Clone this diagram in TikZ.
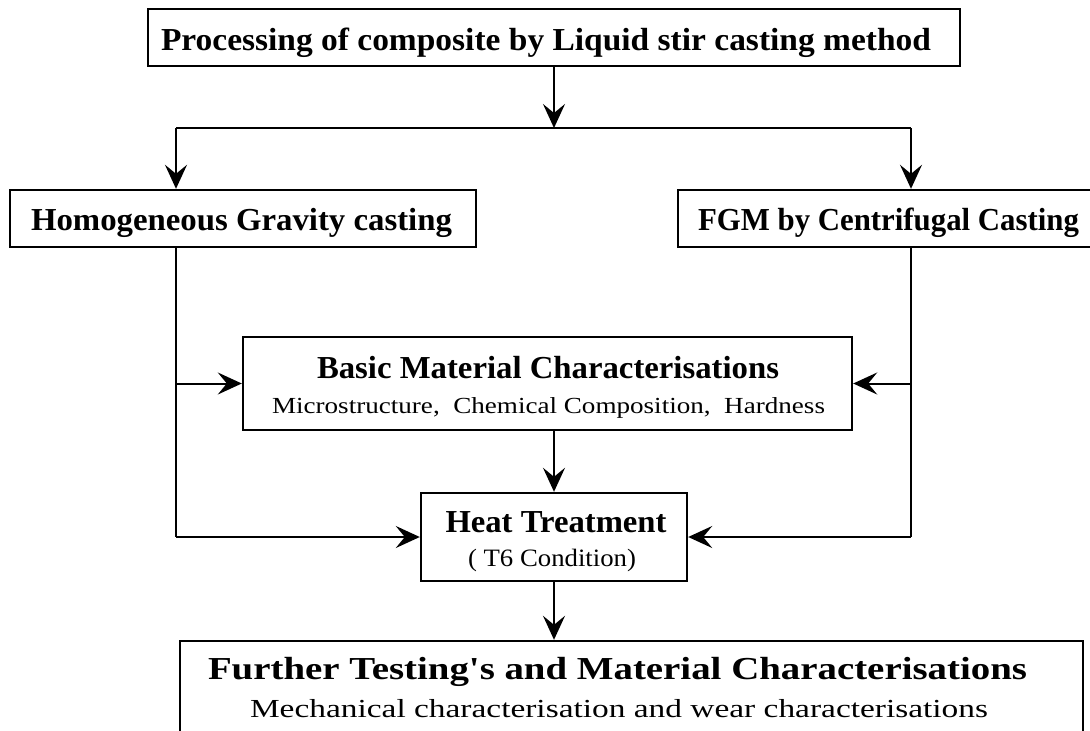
\documentclass[tikz,border=0pt]{standalone}
\usepackage{fontspec}
\setmainfont{Liberation Serif}
\usetikzlibrary{arrows.meta}
\newcommand\fitx[2]{\sbox0{#2}\pgfmathsetmacro\fxs{#1/\the\wd0}\scalebox{\fxs}[1]{\usebox0}}
\tikzset{
  box/.style={draw, line width=2.4pt, rectangle, inner sep=0pt},
  ttl/.style={anchor=base, inner sep=0pt, font=\fontsize{32}{36}\selectfont\bfseries},
  sub/.style={anchor=base, inner sep=0pt, font=\fontsize{25}{28}\selectfont},
  ln/.style={line width=2pt},
  arr/.style={line width=2pt, -{Stealth[length=24pt,width=22pt,inset=9pt]}}
}
\begin{document}
\begin{tikzpicture}[x=1pt,y=-1pt]
\useasboundingbox (0,0) rectangle (1090,731);
\clip (0,0) rectangle (1090,731);
\fill[white] (0,0) rectangle (1090,731);
% boxes
\node[box, minimum width=812pt, minimum height=57pt] (top) at (554,37.5) {};
\node[box, minimum width=466pt, minimum height=57pt] (homo) at (243,218.5) {};
\node[box, minimum width=422pt, minimum height=57pt] (fgm) at (889,218.5) {};
\node[box, minimum width=609pt, minimum height=93pt] (basic) at (547.5,383.5) {};
\node[box, minimum width=266pt, minimum height=88pt] (heat) at (554,537) {};
\node[box, minimum width=903pt, minimum height=119pt] (bottom) at (631.5,700.5) {};
% texts
\node[ttl] (t1) at (546,50) {\fitx{770}{Processing of composite by Liquid stir casting method}};
\node[ttl] (t2) at (241.5,230) {\fitx{421}{Homogeneous Gravity casting}};
\node[ttl] (t3) at (888.5,230) {\fitx{381}{FGM by Centrifugal Casting}};
\node[ttl] (t4) at (548,378) {\fitx{462}{Basic Material Characterisations}};
\node[sub, font=\fontsize{23}{27}\selectfont] (t5) at (548.5,413) {\fitx{553}{Microstructure,\ \ Chemical Composition,\ \ Hardness}};
\node[ttl] (t6) at (556,532) {\fitx{221}{Heat Treatment}};
\node[sub] (t7) at (552,566) {\fitx{168}{( T6 Condition)}};
\node[ttl] (t8) at (617.5,679) {\fitx{819}{Further Testing\textquotesingle s and Material Characterisations}};
\node[sub, font=\fontsize{26}{29}\selectfont] (t9) at (619,717) {\fitx{738}{Mechanical characterisation and wear characterisations}};
% connectors
\coordinate (sL) at (176,128);
\coordinate (sR) at (911,128);
\coordinate (sM) at (554,128);
\draw[arr] (top.south) -- (sM);
\draw[ln] (sL) -- (sR);
\draw[arr] (sL) -- (sL |- homo.north);
\draw[arr] (sR) -- (sR |- fgm.north);
\draw[ln] (sL |- homo.south) -- (sL |- heat.west);
\draw[ln] (sR |- fgm.south) -- (sR |- heat.west);
\draw[arr] (sL |- basic.west) -- (basic.west);
\draw[arr] (sR |- basic.east) -- (basic.east);
\draw[arr] (sL |- heat.west) -- (heat.west);
\draw[arr] (sR |- heat.east) -- (heat.east);
\draw[arr] (basic.south -| heat.north) -- (heat.north);
\draw[arr] (heat.south) -- (heat.south |- bottom.north);
\end{tikzpicture}
\end{document}
